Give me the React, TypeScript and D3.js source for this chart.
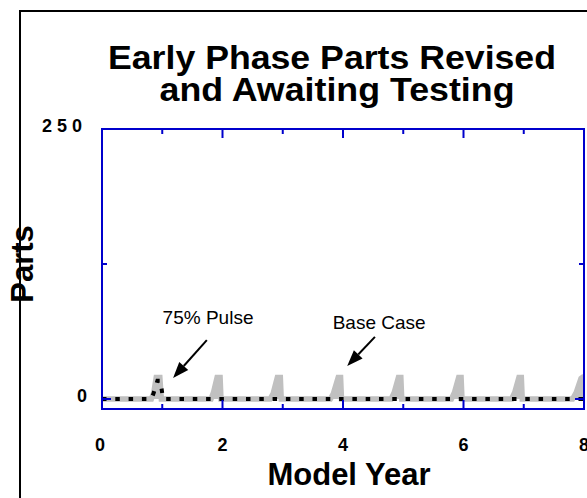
import React, { useRef, useEffect } from 'react';
import * as d3 from 'd3';

// Base Case: stock of parts, small pulse just before every model year
const baseCase: [number, number][] = [
  [0, 0], [0.82, 0], [0.86, 6], [0.9, 20], [0.96, 20], [0.985, 0],
  [1.81, 0], [1.85, 6], [1.91, 20], [1.96, 20], [1.975, 0],
  [2.79, 0], [2.84, 5], [2.91, 20], [2.96, 20], [2.975, 0],
  [3.79, 0], [3.84, 5], [3.92, 20], [3.96, 20], [3.975, 0],
  [4.8, 0], [4.85, 6], [4.92, 20], [4.96, 20], [4.975, 0],
  [5.8, 0], [5.85, 6], [5.92, 20], [5.96, 20], [5.975, 0],
  [6.8, 0], [6.85, 6], [6.92, 20], [6.96, 20], [6.975, 0],
  [7.81, 0], [7.87, 6], [7.95, 19], [8, 21],
];

// 75% Pulse: flat except for a brief bump at year one
const pulseCase: [number, number][] = [
  [0, 0], [0.82, 0], [0.86, 6], [0.92, 17], [0.97, 17], [1.0, 5], [1.02, 0], [8, 0],
];

const xTicks = [0, 1, 2, 3, 4, 5, 6, 7, 8];
const xTickLabels = [0, 2, 4, 6, 8];
const yTicks = [0, 125, 250];
const yTickLabels = [0, 250];

const annotations = [
  { text: '75% Pulse', tx: 1.76, ty: 69, from: [1.74, 54.5], to: [1.18, 19.5] },
  { text: 'Base Case', tx: 4.6, ty: 65, from: [4.53, 57.5], to: [4.07, 30.5] },
];

const App: React.FC = () => {
  const svgRef = useRef<SVGSVGElement>(null);
  const width = 587;
  const height = 498;

  useEffect(() => {
    document.body.style.margin = '0';
    if (!svgRef.current) return;
    const svg = d3.select(svgRef.current);
    svg.selectAll('*').remove();

    const font = '"Liberation Sans", Arial, Helvetica, sans-serif';
    const blue = '#0000cc';
    const grey = '#c0c0c0';

    const x = d3.scaleLinear().domain([0, 8]).range([102, 584]);
    const y = d3.scaleLinear().domain([0, 250]).range([399, 129]);
    const frameBottom = y(0) + 10;

    // outer page frame
    svg.append('rect')
      .attr('x', 20).attr('y', 11)
      .attr('width', 600).attr('height', 520)
      .attr('fill', 'none').attr('stroke', '#000').attr('stroke-width', 2);

    // title
    const title = svg.append('text')
      .attr('text-anchor', 'middle')
      .attr('font-family', font).attr('font-weight', 'bold').attr('font-size', 33);
    title.append('tspan').attr('x', 332).attr('y', 69)
      .attr('textLength', 448).attr('lengthAdjust', 'spacingAndGlyphs')
      .text('Early Phase Parts Revised');
    title.append('tspan').attr('x', 337).attr('y', 101)
      .attr('textLength', 355).attr('lengthAdjust', 'spacingAndGlyphs')
      .text('and Awaiting Testing');

    // clipped data
    svg.append('clipPath').attr('id', 'plot-clip')
      .append('rect')
      .attr('x', x(0)).attr('y', y(250))
      .attr('width', x(8) - x(0)).attr('height', frameBottom - y(250));

    const line = d3.line<[number, number]>().x((d) => x(d[0])).y((d) => y(d[1]));
    const area = d3.area<[number, number]>().x((d) => x(d[0])).y0(y(0)).y1((d) => y(d[1]));
    const plot = svg.append('g').attr('clip-path', 'url(#plot-clip)');

    plot.append('path')
      .attr('d', area(baseCase))
      .attr('fill', grey);
    plot.append('path')
      .attr('d', line(baseCase))
      .attr('fill', 'none').attr('stroke', grey)
      .attr('stroke-width', 5.5).attr('stroke-linejoin', 'miter').attr('stroke-miterlimit', 3);

    plot.append('path')
      .attr('d', line(pulseCase))
      .attr('fill', 'none').attr('stroke', '#000')
      .attr('stroke-width', 4).attr('stroke-dasharray', '4.5,8.8');

    // plot frame
    svg.append('rect')
      .attr('x', x(0)).attr('y', y(250))
      .attr('width', x(8) - x(0)).attr('height', frameBottom - y(250))
      .attr('fill', 'none').attr('stroke', blue).attr('stroke-width', 2);

    // x ticks top and bottom
    xTicks.forEach((t) => {
      const len = t % 2 === 0 ? 9 : 5;
      svg.append('line')
        .attr('x1', x(t)).attr('x2', x(t))
        .attr('y1', frameBottom).attr('y2', frameBottom - len)
        .attr('stroke', blue).attr('stroke-width', 2);
      svg.append('line')
        .attr('x1', x(t)).attr('x2', x(t))
        .attr('y1', y(250)).attr('y2', y(250) + len)
        .attr('stroke', blue).attr('stroke-width', 2);
    });

    // y ticks left and right
    yTicks.forEach((t) => {
      const len = t === 125 ? 5 : 9;
      svg.append('line')
        .attr('x1', x(0)).attr('x2', x(0) + len)
        .attr('y1', y(t)).attr('y2', y(t))
        .attr('stroke', blue).attr('stroke-width', 2);
      svg.append('line')
        .attr('x1', x(8)).attr('x2', x(8) - len)
        .attr('y1', y(t)).attr('y2', y(t))
        .attr('stroke', blue).attr('stroke-width', 2);
    });

    // tick labels
    xTickLabels.forEach((t) => {
      svg.append('text')
        .attr('x', x(t) - (t === 0 ? 2 : 0)).attr('y', 451)
        .attr('text-anchor', 'middle')
        .attr('font-family', font).attr('font-weight', 'bold').attr('font-size', 18)
        .text(String(t));
    });
    yTickLabels.forEach((t) => {
      svg.append('text')
        .attr('x', 87).attr('y', y(t) + 3)
        .attr('text-anchor', 'end')
        .attr('letter-spacing', t >= 100 ? 5 : 0)
        .attr('font-family', font).attr('font-weight', 'bold').attr('font-size', 18)
        .text(String(t));
    });

    // axis titles
    svg.append('text')
      .attr('x', 349).attr('y', 485)
      .attr('text-anchor', 'middle')
      .attr('font-family', font).attr('font-weight', 'bold').attr('font-size', 31)
      .text('Model Year');
    svg.append('text')
      .attr('transform', `translate(33, ${y(125)}) rotate(-90)`)
      .attr('text-anchor', 'middle')
      .attr('font-family', font).attr('font-weight', 'bold').attr('font-size', 31)
      .text('Parts');

    // annotations with arrows
    annotations.forEach((a) => {
      svg.append('text')
        .attr('x', x(a.tx)).attr('y', y(a.ty))
        .attr('text-anchor', 'middle')
        .attr('font-family', font).attr('font-size', 19)
        .text(a.text);
      const x1 = x(a.from[0]);
      const y1 = y(a.from[1]);
      const x2 = x(a.to[0]);
      const y2 = y(a.to[1]);
      const angle = Math.atan2(y2 - y1, x2 - x1);
      const head = 16;
      const half = 6;
      const bx = x2 - head * Math.cos(angle);
      const by = y2 - head * Math.sin(angle);
      svg.append('line')
        .attr('x1', x1).attr('y1', y1).attr('x2', bx).attr('y2', by)
        .attr('stroke', '#000').attr('stroke-width', 2);
      const pts = [
        [x2, y2],
        [bx + half * Math.sin(angle), by - half * Math.cos(angle)],
        [bx - half * Math.sin(angle), by + half * Math.cos(angle)],
      ];
      svg.append('polygon')
        .attr('points', pts.map((p) => p.join(',')).join(' '))
        .attr('fill', '#000');
    });
  }, []);

  return (
    <div style={{ position: 'absolute', left: 0, top: 0 }}>
      <svg ref={svgRef} width={width} height={height} style={{ display: 'block', background: '#fff' }} />
    </div>
  );
};

export default App;
